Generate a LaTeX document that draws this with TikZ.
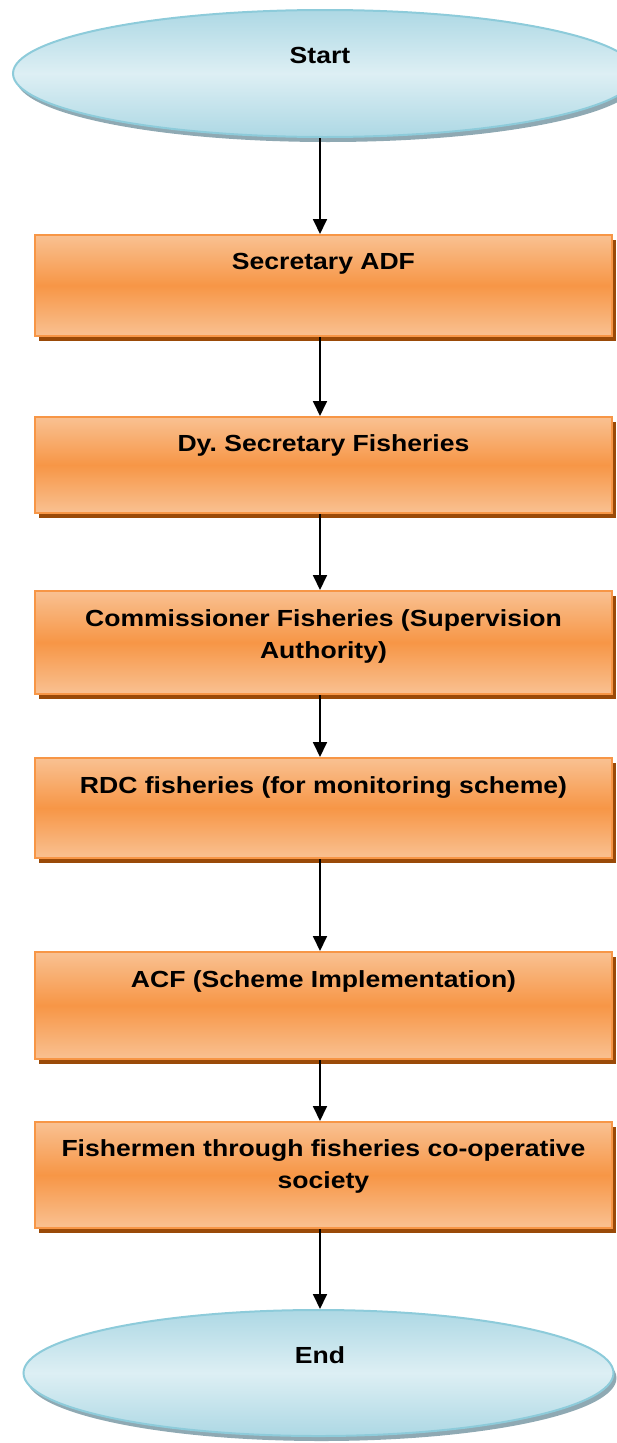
\documentclass[tikz,border=0pt]{standalone}
\usepackage{fontspec}
\setmainfont{Liberation Sans}[FakeStretch=1.14]
\usetikzlibrary{shapes.geometric,arrows.meta,shadows}
\frenchspacing
\definecolor{boxlight}{HTML}{F9C192}
\definecolor{boxdark}{HTML}{F79646}
\definecolor{boxedge}{HTML}{F79646}
\definecolor{boxshadow}{HTML}{9A4A08}
\definecolor{elllight}{HTML}{DDEFF4}
\definecolor{elldark}{HTML}{ADD8E4}
\definecolor{elledge}{HTML}{8DCBDA}
\definecolor{ellshadow}{HTML}{8FA9B3}
\tikzset{
  procbox/.style={rectangle, inner sep=0pt, line width=2pt, draw=boxedge,
    shading=axis, top color=boxlight, bottom color=boxlight, middle color=boxdark,
    minimum width=577pt,
    drop shadow={shadow xshift=4pt, shadow yshift=-5pt, fill=boxshadow, opacity=1}},
  termell/.style={ellipse, inner sep=0pt, line width=2pt, draw=elledge,
    shading=axis, shading angle=30, top color=elldark, bottom color=elldark, middle color=elllight,
    drop shadow={shadow xshift=3pt, shadow yshift=-5pt, fill=ellshadow, opacity=1}},
  lbl/.style={anchor=base, inner sep=0pt, font=\fontsize{23.3}{32}\selectfont\bfseries},
  flow/.style={line width=1.8pt, -{Triangle[width=14pt,length=15pt]}}
}
\newcommand{\boxtext}[1]{\parbox[t]{560pt}{\centering #1}}
\begin{document}
\begin{tikzpicture}[x=1pt,y=1pt]
\useasboundingbox (0,0) rectangle (616,-1443);
\coordinate (axis) at (320,0);
% terminals
\node[termell, minimum width=624pt, minimum height=127pt] (start) at (325,-73.5) {};
\node[lbl] (starttxt) at (320,-63) {Start};
\node[termell, minimum width=590pt, minimum height=126pt] (end) at (318.5,-1373) {};
\node[lbl] (endtxt) at (320,-1363) {End};
% process boxes
\node[procbox, minimum height=101pt] (b1) at (323.5,-285.5) {};
\node[lbl] (t1) at (323.5,-269.5) {\boxtext{Secretary ADF}};
\node[procbox, minimum height=96pt] (b2) at (323.5,-465) {};
\node[lbl] (t2) at (323.5,-451.5) {\boxtext{Dy. Secretary Fisheries}};
\node[procbox, minimum height=103pt] (b3) at (323.5,-642.5) {};
\node[lbl] (t3) at (323.5,-626) {\boxtext{Commissioner Fisheries (Supervision\\Authority)}};
\node[procbox, minimum height=100pt] (b4) at (323.5,-808) {};
\node[lbl] (t4) at (323.5,-793) {\boxtext{RDC fisheries (for monitoring scheme)}};
\node[procbox, minimum height=107pt] (b5) at (323.5,-1005.5) {};
\node[lbl] (t5) at (323.5,-987) {\boxtext{ACF (Scheme Implementation)}};
\node[procbox, minimum height=106pt] (b6) at (323.5,-1175) {};
\node[lbl] (t6) at (323.5,-1156.5) {\boxtext{Fishermen through fisheries co-operative\\society}};
% connectors
\draw[flow] (start.south -| axis) -- (b1.north -| axis);
\draw[flow] (b1.south -| axis) -- (b2.north -| axis);
\draw[flow] (b2.south -| axis) -- (b3.north -| axis);
\draw[flow] (b3.south -| axis) -- (b4.north -| axis);
\draw[flow] (b4.south -| axis) -- (b5.north -| axis);
\draw[flow] (b5.south -| axis) -- (b6.north -| axis);
\draw[flow] (b6.south -| axis) -- (end.north -| axis);
\end{tikzpicture}
\end{document}
